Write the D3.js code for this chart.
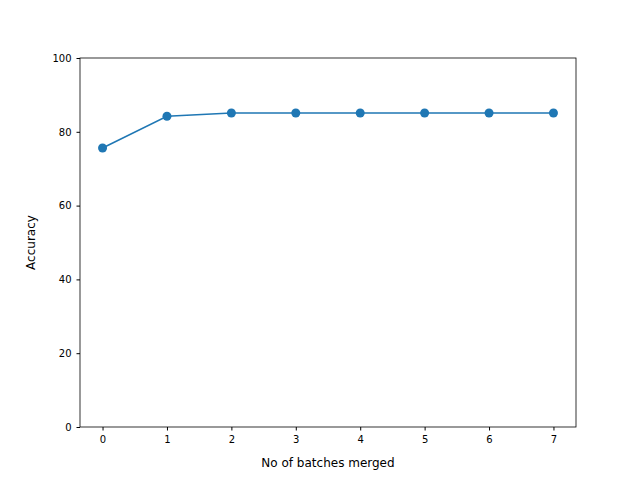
<!DOCTYPE html>
<html>
<head>
<meta charset="utf-8">
<script src="https://cdn.jsdelivr.net/npm/d3@7"></script>
<style>
body { margin: 0; background: #fff; }
text { font-family: "DejaVu Sans", sans-serif; }
</style>
</head>
<body>
<svg width="640" height="480"></svg>
<script>
const batches = [0, 1, 2, 3, 4, 5, 6, 7];
const accuracy = [75.6, 84.2, 85.1, 85.1, 85.1, 85.1, 85.1, 85.1];
const yTicks = [0, 20, 40, 60, 80, 100];

const plotLeft = 80, plotRight = 576, plotTop = 58, plotBottom = 427;
const svg = d3.select('svg');

const x = d3.scaleLinear().domain([-0.35, 7.35]).range([plotLeft, plotRight]);
const y = d3.scaleLinear().domain([0, 100]).range([plotBottom, plotTop]);

const xAxis = svg.append('g')
    .attr('transform', `translate(0, ${plotBottom})`)
    .call(d3.axisBottom(x).tickValues(batches).tickFormat(d3.format('d')).tickSizeOuter(0).tickSize(3.5).tickPadding(5));
const yAxis = svg.append('g')
    .attr('transform', `translate(${plotLeft}, 0)`)
    .call(d3.axisLeft(y).tickValues(yTicks).tickSizeOuter(0).tickSize(3.5).tickPadding(5));
[xAxis, yAxis].forEach(a => {
    a.select('.domain').remove();
    a.selectAll('text').attr('font-size', 10).attr('fill', '#000').style('font-family', 'DejaVu Sans');
    a.selectAll('line').attr('stroke', '#000');
});

svg.append('rect')
    .attr('x', plotLeft).attr('y', plotTop)
    .attr('width', plotRight - plotLeft).attr('height', plotBottom - plotTop)
    .attr('fill', 'none').attr('stroke', '#000').attr('stroke-width', 0.8);

const pts = batches.map((b, i) => [b, accuracy[i]]);
svg.append('path')
    .datum(pts)
    .attr('fill', 'none')
    .attr('stroke', '#1f77b4')
    .attr('stroke-width', 1.5)
    .attr('d', d3.line().x(d => x(d[0])).y(d => y(d[1])));
svg.selectAll('.pt')
    .data(pts)
    .enter()
    .append('circle')
    .attr('cx', d => x(d[0]))
    .attr('cy', d => y(d[1]))
    .attr('r', 4.5)
    .attr('fill', '#1f77b4');

svg.append('text')
    .attr('x', (plotLeft + plotRight) / 2).attr('y', 467)
    .attr('text-anchor', 'middle').attr('font-size', 12)
    .text('No of batches merged');
svg.append('text')
    .attr('transform', `translate(35, ${(plotTop + plotBottom) / 2}) rotate(-90)`)
    .attr('text-anchor', 'middle').attr('font-size', 12)
    .text('Accuracy');
</script>
</body>
</html>
